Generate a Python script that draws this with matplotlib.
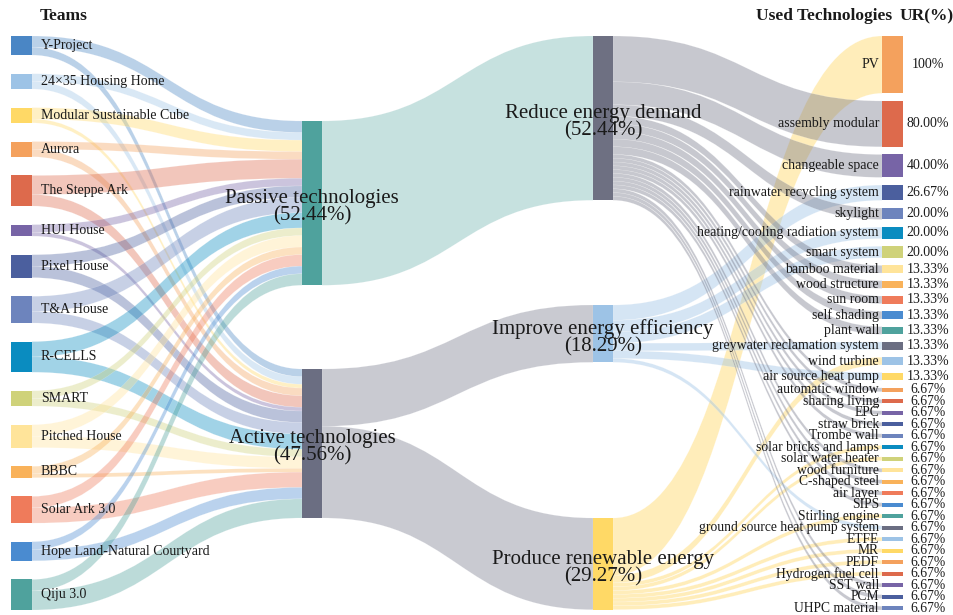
import matplotlib
matplotlib.use("Agg")
import matplotlib.pyplot as plt
from matplotlib.path import Path
from matplotlib.patches import PathPatch, Rectangle

# ---- data ----
teams = ["Y-Project", "24×35 Housing Home", "Modular Sustainable Cube", "Aurora",
         "The Steppe Ark", "HUI House", "Pixel House", "T&A House", "R-CELLS",
         "SMART", "Pitched House", "BBBC", "Solar Ark 3.0",
         "Hope Land-Natural Courtyard", "Qiju 3.0"]
team_passive = [3, 2, 3, 2, 5, 2, 3, 4, 4, 2, 3, 2, 3, 2, 3]
team_active = [2, 2, 1, 2, 3, 1, 3, 3, 4, 2, 3, 1, 4, 3, 5]

strategies = ["Passive technologies", "Active technologies"]
goals = ["Reduce energy demand", "Improve energy efficiency", "Produce renewable energy"]
# which strategy feeds each goal
goal_strategy = [0, 1, 1]

techs = ["PV", "assembly modular", "changeable space", "rainwater recycling system",
         "skylight", "heating/cooling radiation system", "smart system",
         "bamboo material", "wood structure", "sun room", "self shading", "plant wall",
         "greywater reclamation system", "wind turbine", "air source heat pump",
         "automatic window", "sharing living", "EPC", "straw brick", "Trombe wall",
         "solar bricks and lamps", "solar water heater", "wood furniture",
         "C-shaped steel", "air layer", "SIPS", "Stirling engine",
         "ground source heat pump system", "ETFE", "MR", "PEDF", "Hydrogen fuel cell",
         "SST wall", "PCM", "UHPC material"]
tech_count = [15, 12, 6, 4, 3, 3, 3, 2, 2, 2, 2, 2, 2, 2, 2,
              1, 1, 1, 1, 1, 1, 1, 1, 1, 1, 1, 1, 1, 1, 1, 1, 1, 1, 1, 1]
# goal index of each technology (0 reduce, 1 improve, 2 produce)
tech_goal = [2, 0, 0, 1, 0, 1, 1, 0, 0, 0, 0, 0, 1, 2, 1,
             0, 0, 0, 0, 0, 2, 2, 0, 0, 0, 0, 2, 1, 2, 2, 2, 2, 0, 0, 0]
n_teams = 15

# ---- style ----
palette = ["#4a86c5", "#9dc3e6", "#ffd966", "#f4a15d", "#dd6a4c", "#7764a6",
           "#4b5f9e", "#6d84bd", "#0a8cc0", "#cfd27a", "#ffe49a", "#f9b25a",
           "#ef7b5b", "#4a8bd0", "#4fa29d", "#6b6e82"]
team_colors = palette[:15]
strategy_colors = [palette[14], palette[15]]
goal_colors = ["#6e7082", palette[1], palette[2]]
tech_colors = [palette[1 + (2 + i) % 15] for i in range(len(techs))]

plt.rcParams['font.family'] = ['Liberation Serif', 'DejaVu Serif']
fig = plt.figure(figsize=(9.54, 6.15), dpi=100)
ax = fig.add_axes([0, 0, 1, 1])
ax.set_xlim(0, 954)
ax.set_ylim(615, 0)
ax.axis('off')

K = 3.82  # px per unit
TOP, BOT = 36, 610

nodes = {}


def column(names, values, colors, x0, x1, tops=None):
    total_h = sum(values) * K
    gap = (BOT - TOP - total_h) / (len(values) - 1) if tops is None else 0
    y = TOP
    for i, (nm, v, c) in enumerate(zip(names, values, colors)):
        if tops is not None:
            y = tops[i]
        nodes[nm] = dict(x0=x0, x1=x1, y0=y, y1=y + v * K, c=c, v=v)
        y += v * K + gap


team_tot = [p + a for p, a in zip(team_passive, team_active)]
strat_tot = [sum(team_passive), sum(team_active)]
goal_tot = [sum(c for c, g in zip(tech_count, tech_goal) if g == k) for k in range(3)]
total = sum(tech_count)

column(teams, team_tot, team_colors, 11, 32)
column(strategies, strat_tot, strategy_colors, 302, 322, tops=[121, 369])
column(goals, goal_tot, goal_colors, 593, 613, tops=[36, 305, 518])
column(techs, tech_count, tech_colors, 882, 903)

links = []
for i, t in enumerate(teams):
    links.append((t, strategies[0], team_passive[i], team_colors[i], 0.38))
    links.append((t, strategies[1], team_active[i], team_colors[i], 0.38))
for k, g in enumerate(goals):
    links.append((strategies[goal_strategy[k]], g, goal_tot[k],
                  strategy_colors[goal_strategy[k]], 0.32 if k == 0 else 0.36))
link_alpha = [0.38, 0.42, 0.45]
for i, t in enumerate(techs):
    g = tech_goal[i]
    links.append((goals[g], t, tech_count[i], goal_colors[g], link_alpha[g]))


def cy(n):
    return (nodes[n]['y0'] + nodes[n]['y1']) / 2


# stack link ends at each node, ordered by the other end's position
src_y, tgt_y = {}, {}
for nm in nodes:
    outs = sorted([l for l in range(len(links)) if links[l][0] == nm], key=lambda l: cy(links[l][1]))
    y = nodes[nm]['y0']
    for l in outs:
        src_y[l] = y
        y += links[l][2] * K
    ins = sorted([l for l in range(len(links)) if links[l][1] == nm], key=lambda l: cy(links[l][0]))
    y = nodes[nm]['y0']
    for l in ins:
        tgt_y[l] = y
        y += links[l][2] * K

for l, (s, t, v, c, a) in enumerate(links):
    xa, xb = nodes[s]['x1'], nodes[t]['x0']
    xm = (xa + xb) / 2
    ya, yb, h = src_y[l], tgt_y[l], v * K
    verts = [(xa, ya), (xm, ya), (xm, yb), (xb, yb), (xb, yb + h),
             (xm, yb + h), (xm, ya + h), (xa, ya + h), (xa, ya)]
    codes = [Path.MOVETO, Path.CURVE4, Path.CURVE4, Path.CURVE4, Path.LINETO,
             Path.CURVE4, Path.CURVE4, Path.CURVE4, Path.CLOSEPOLY]
    ax.add_patch(PathPatch(Path(verts, codes), facecolor=c, alpha=a,
                           edgecolor='white', lw=0.25, zorder=1))

for nm, n in nodes.items():
    ax.add_patch(Rectangle((n['x0'], n['y0']), n['x1'] - n['x0'], n['y1'] - n['y0'],
                           facecolor=n['c'], edgecolor='none', zorder=2))

txt = '#1a1a1a'
for t in teams:
    ax.text(41, cy(t), t, ha='left', va='center', fontsize=10, color=txt, zorder=3)

for nm in strategies + goals:
    ax.text((nodes[nm]['x0'] + nodes[nm]['x1']) / 2, cy(nm) + 4,
            f"{nm}\n({nodes[nm]['v'] / total * 100:.2f}%)", ha='center', va='center',
            fontsize=15, linespacing=0.88, color=txt, zorder=3)

for i, t in enumerate(techs):
    fs = 10 if tech_count[i] > 1 else 9.8
    ax.text(879, cy(t), t, ha='right', va='center', fontsize=fs, color=txt, zorder=3)
    ur = tech_count[i] / n_teams * 100
    lab = "100%" if ur >= 100 else f"{ur:.2f}%"
    ax.text(928, cy(t), lab, ha='center', va='center', fontsize=fs, color=txt, zorder=3)

ax.text(40, 16, "Teams", ha='left', va='center', fontsize=12.5, fontweight='bold', color=txt)
ax.text(892, 16, "Used Technologies", ha='right', va='center', fontsize=12.5,
        fontweight='bold', color=txt)
ax.text(927, 16, "UR(%)", ha='center', va='center', fontsize=12.5, fontweight='bold', color=txt)

fig.savefig("out.png", dpi=100)
